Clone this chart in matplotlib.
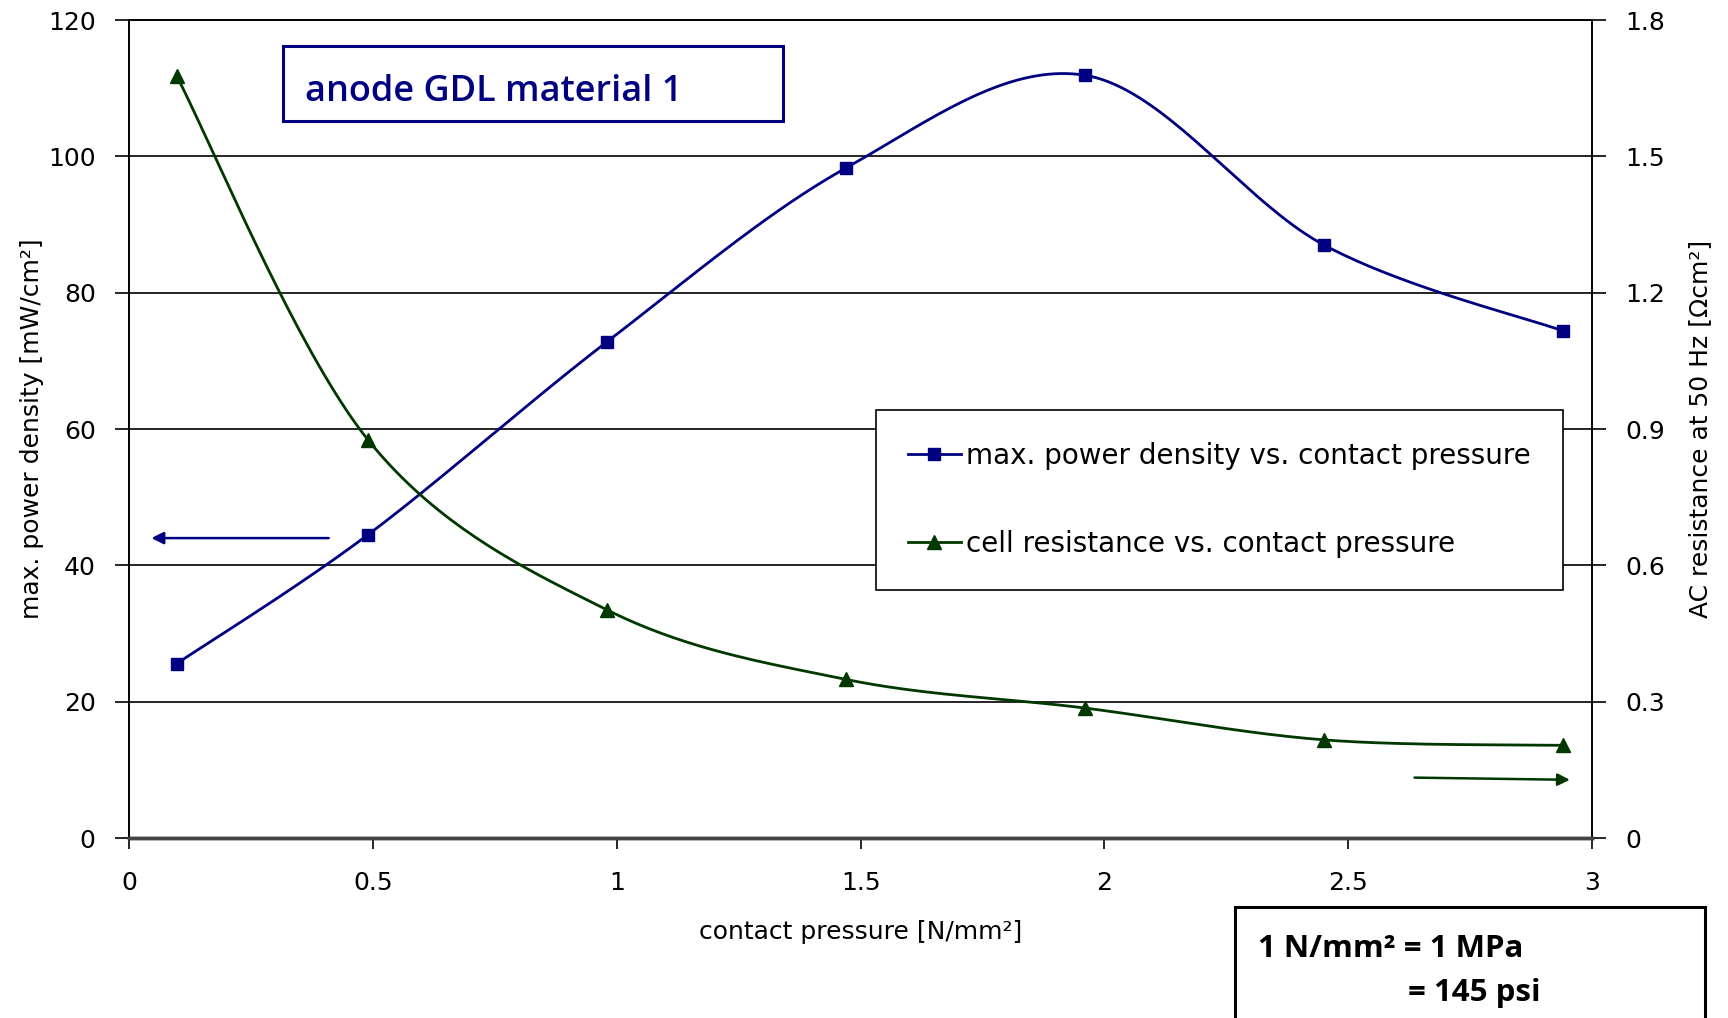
import numpy as np
import matplotlib.pyplot as plt
from matplotlib.patches import Rectangle

# contact pressure [N/mm2]
pressure = [0.098, 0.49, 0.98, 1.47, 1.96, 2.45, 2.94]
power = [25.6, 44.5, 72.8, 98.3, 111.9, 87.0, 74.4]        # mW/cm2
resistance = [1.676, 0.876, 0.502, 0.349, 0.286, 0.216, 0.204]  # Ohm cm2

left_ticks = [0, 20, 40, 60, 80, 100, 120]
right_ticks = [0, 0.3, 0.6, 0.9, 1.2, 1.5, 1.8]
x_ticks = [0, 0.5, 1, 1.5, 2, 2.5, 3]

BLUE = '#000080'
GREEN = '#003800'


def smooth(x, y, n=40):
    # Excel-style smoothed line (Bezier through points, Catmull-Rom control points)
    p = np.column_stack([x, y])
    pts = [p[0]] + list(p) + [p[-1]]
    out = []
    for i in range(1, len(pts) - 2):
        p0, p1, p2, p3 = pts[i - 1], pts[i], pts[i + 1], pts[i + 2]
        c1 = p1 + (p2 - p0) / 6
        c2 = p2 - (p3 - p1) / 6
        t = np.linspace(0, 1, n)[:, None]
        seg = ((1 - t) ** 3) * p1 + 3 * ((1 - t) ** 2) * t * c1 + 3 * (1 - t) * t ** 2 * c2 + t ** 3 * p2
        out.append(seg if i == 1 else seg[1:])
    s = np.vstack(out)
    return s[:, 0], s[:, 1]


fig = plt.figure(figsize=(17.28, 10.18), dpi=100)
ax = fig.add_axes([0.0747, 0.1768, 0.8467, 0.8035])
ax2 = ax.twinx()

sx, sy = smooth(pressure, power)
ax.plot(sx, sy, color=BLUE, lw=2.0, zorder=3)
ax.plot(pressure, power, 's', color=BLUE, ms=9, zorder=4)
h1, = ax.plot([], [], '-s', color=BLUE, lw=2.0, ms=9)

rx, ry = smooth(pressure, resistance)
ax2.plot(rx, ry, color=GREEN, lw=2.0, zorder=3)
ax2.plot(pressure, resistance, '^', color=GREEN, ms=10, zorder=4)
h2, = ax2.plot([], [], '-^', color=GREEN, lw=2.0, ms=10)

ax.set_xlim(0, 3)
ax.set_ylim(0, 120)
ax2.set_ylim(0, 1.8)
ax.set_xticks(x_ticks)
ax.set_xticklabels(['0', '0.5', '1', '1.5', '2', '2.5', '3'])
ax.set_yticks(left_ticks)
ax2.set_yticks(right_ticks)
ax2.set_yticklabels(['0', '0.3', '0.6', '0.9', '1.2', '1.5', '1.8'])

ax.grid(axis='y', color='black', lw=1.2)
ax.tick_params(axis='x', length=8, width=1.2, pad=16, labelsize=18)
ax.tick_params(axis='y', length=10, width=1.2, pad=14, labelsize=18)
ax2.tick_params(axis='y', length=10, width=1.2, pad=14, labelsize=18)
for a in (ax, ax2):
    for s in a.spines.values():
        s.set_linewidth(1.2)
    a.spines['bottom'].set_linewidth(2.5)
    a.spines['bottom'].set_color('#444444')

ax.set_xlabel('contact pressure [N/mm²]', fontsize=18, labelpad=18)
ax.set_ylabel('max. power density [mW/cm²]', fontsize=18, labelpad=3)
ax2.set_ylabel('AC resistance at 50 Hz [Ωcm²]', fontsize=18, labelpad=16)

# arrows pointing to the matching axis
ax.annotate('', xy=(0.04, 44), xytext=(0.415, 44),
            arrowprops=dict(arrowstyle='-|>', color=BLUE, lw=1.8, mutation_scale=18))
ax2.annotate('', xy=(2.96, 0.128), xytext=(2.63, 0.133),
             arrowprops=dict(arrowstyle='-|>', color=GREEN, lw=1.8, mutation_scale=18))

leg = ax2.legend([h1, h2], ['max. power density vs. contact pressure',
                            'cell resistance vs. contact pressure'],
                 loc='upper left', bbox_to_anchor=(876 / 1728, 1 - 410 / 1018),
                 bbox_transform=fig.transFigure, borderaxespad=0, fontsize=20,
                 fancybox=False, edgecolor='black', framealpha=1,
                 labelspacing=2.15, borderpad=1.15, handlelength=1.9,
                 handletextpad=0.2)
leg.get_frame().set_linewidth(1.2)
leg.set_zorder(10)

# title box
fig.patches.append(Rectangle((283 / 1728, 1 - 121 / 1018), 500 / 1728, 75 / 1018,
                             transform=fig.transFigure, fill=False,
                             edgecolor=BLUE, lw=2.2))
fig.text(305 / 1728, 1 - 101 / 1018, 'anode GDL material 1', color=BLUE,
         fontsize=26, fontweight='semibold', family='Open Sans', va='baseline')

# unit note box
fig.patches.append(Rectangle((1235 / 1728, -0.01), 470 / 1728, 1 - 907 / 1018 + 0.01,
                             transform=fig.transFigure, fill=False,
                             edgecolor='black', lw=2.2))
fig.text(1258 / 1728, 1 - 957 / 1018, '1 N/mm² = 1 MPa', fontsize=22.5,
         fontweight='bold', family='Open Sans', va='baseline')
fig.text(1408 / 1728, 1 - 1001 / 1018, '= 145 psi', fontsize=22.5,
         fontweight='bold', family='Open Sans', va='baseline')

fig.savefig('out.png', dpi=100)
